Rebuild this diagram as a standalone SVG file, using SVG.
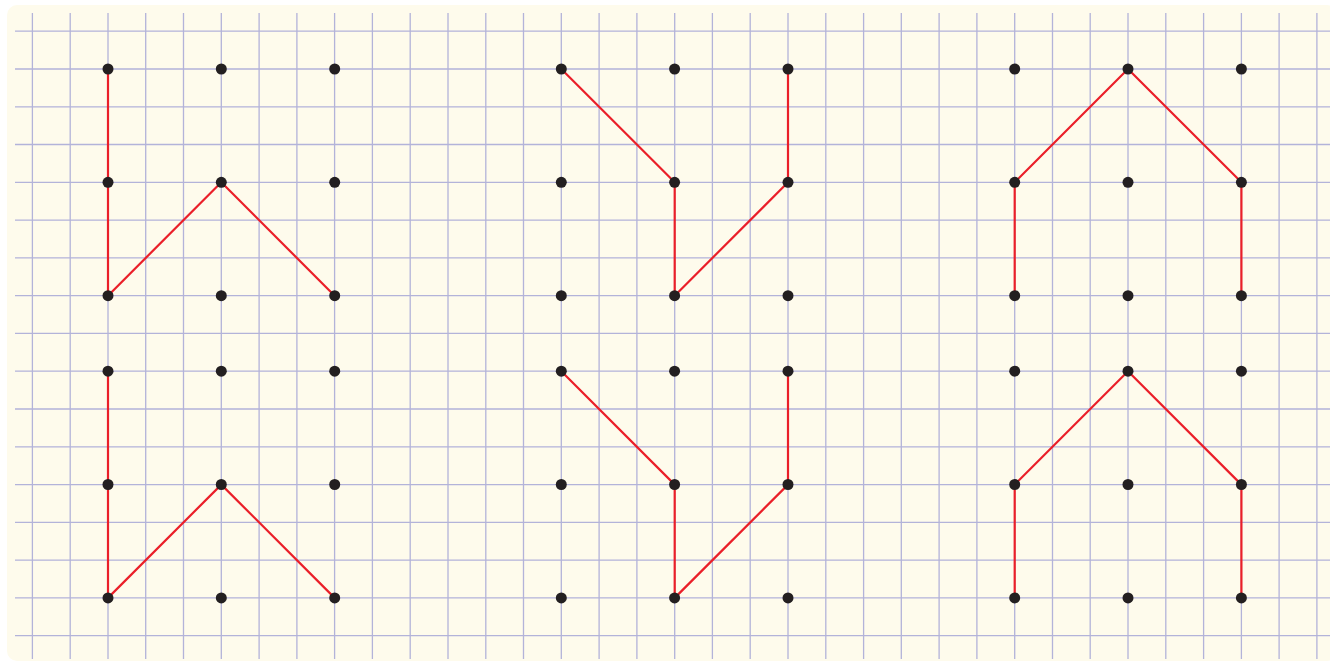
<svg xmlns="http://www.w3.org/2000/svg" width="1330" height="661" viewBox="0 0 1330 661">
<style>
.g{stroke:#b3b3d9;stroke-width:1.3;fill:none}
.r{stroke:#ea1f29;stroke-width:2.2;fill:none;stroke-linejoin:round}
.d{fill:#231f20}
</style>
<defs>
<g id="dots">
<circle class="d" cx="0" cy="0" r="5.5"/><circle class="d" cx="113.3" cy="0" r="5.5"/><circle class="d" cx="226.7" cy="0" r="5.5"/>
<circle class="d" cx="0" cy="113.3" r="5.5"/><circle class="d" cx="113.3" cy="113.3" r="5.5"/><circle class="d" cx="226.7" cy="113.3" r="5.5"/>
<circle class="d" cx="0" cy="226.7" r="5.5"/><circle class="d" cx="113.3" cy="226.7" r="5.5"/><circle class="d" cx="226.7" cy="226.7" r="5.5"/>
</g>
</defs>
<rect x="7" y="5" width="1330" height="656" rx="10" fill="#fefbec"/>
<g id="grid" class="g">
<path d="M32.4 13V659M70.2 13V659M108 13V659M145.7 13V659M183.5 13V659M221.3 13V659M259.1 13V659M296.9 13V659M334.6 13V659M372.4 13V659M410.2 13V659M448 13V659M485.8 13V659M523.5 13V659M561.3 13V659M599.1 13V659M636.9 13V659M674.7 13V659M712.4 13V659M750.2 13V659M788 13V659M825.8 13V659M863.6 13V659M901.3 13V659M939.1 13V659M976.9 13V659M1014.7 13V659M1052.5 13V659M1090.2 13V659M1128 13V659M1165.8 13V659M1203.6 13V659M1241.4 13V659M1279.1 13V659M1316.9 13V659"/>
<path d="M15 31.2H1330M15 69H1330M15 106.8H1330M15 144.5H1330M15 182.3H1330M15 220.1H1330M15 257.9H1330M15 295.7H1330M15 333.4H1330M15 371.2H1330M15 409H1330M15 446.8H1330M15 484.6H1330M15 522.3H1330M15 560.1H1330M15 597.9H1330M15 635.7H1330"/>
</g>
<g id="connectors" class="r">
<polyline points="108,69 108,295.7 221.3,182.3 334.6,295.7"/>
<polyline points="108,371.2 108,597.9 221.3,484.6 334.6,597.9"/>
<polyline points="561.3,69 674.7,182.3 674.7,295.7 788,182.3 788,69"/>
<polyline points="561.3,371.2 674.7,484.6 674.7,597.9 788,484.6 788,371.2"/>
<polyline points="1014.7,295.7 1014.7,182.3 1128,69 1241.4,182.3 1241.4,295.7"/>
<polyline points="1014.7,597.9 1014.7,484.6 1128,371.2 1241.4,484.6 1241.4,597.9"/>
</g>
<g id="panel1-top"><use href="#dots" x="108" y="69"/></g>
<g id="panel1-bottom"><use href="#dots" x="108" y="371.2"/></g>
<g id="panel2-top"><use href="#dots" x="561.3" y="69"/></g>
<g id="panel2-bottom"><use href="#dots" x="561.3" y="371.2"/></g>
<g id="panel3-top"><use href="#dots" x="1014.7" y="69"/></g>
<g id="panel3-bottom"><use href="#dots" x="1014.7" y="371.2"/></g>
</svg>
